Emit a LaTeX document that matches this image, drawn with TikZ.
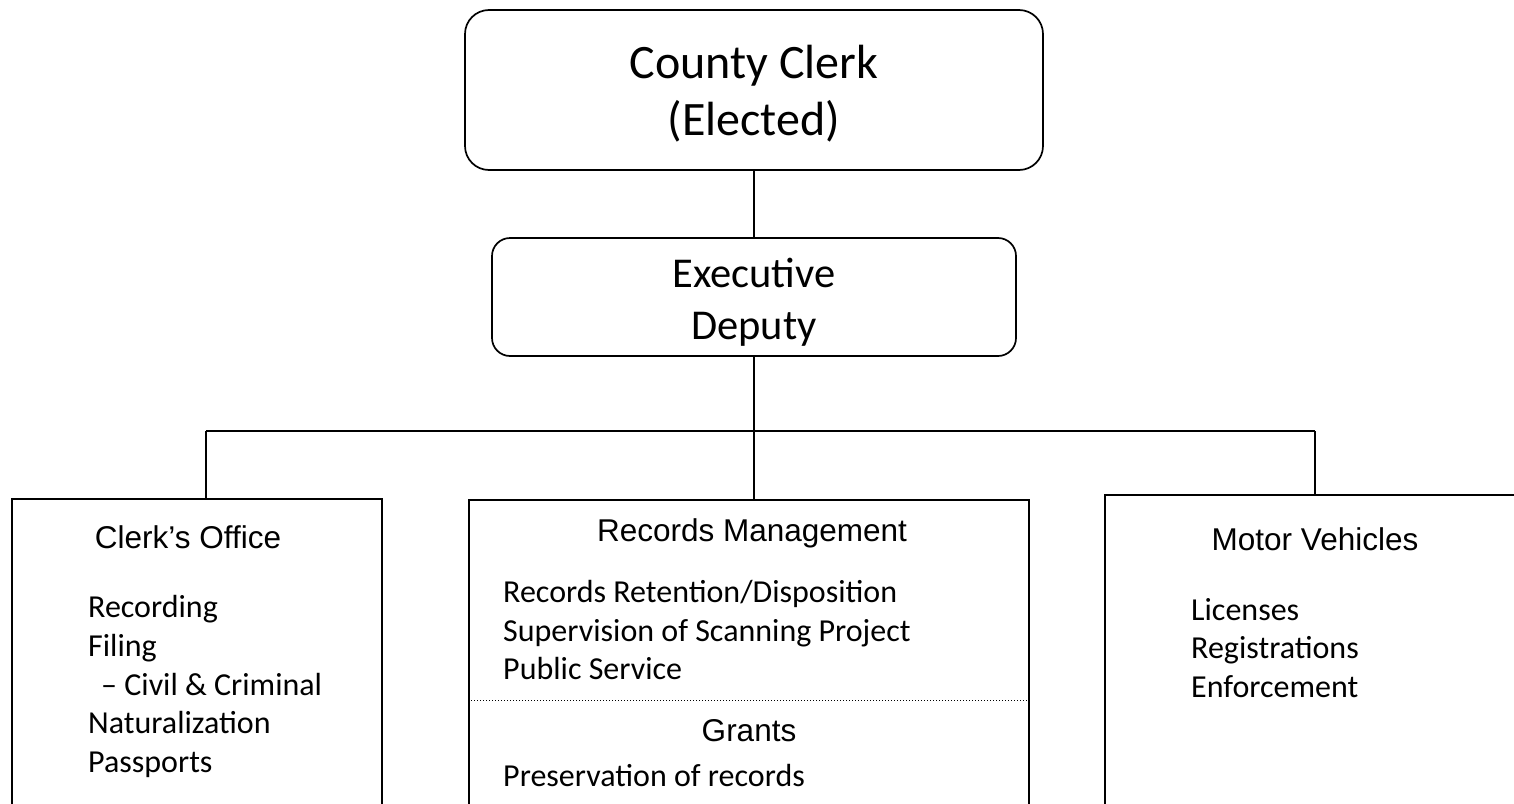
\documentclass[tikz,border=0pt]{standalone}
\usepackage{fontspec}
\setmainfont{Carlito}
\newfontfamily\arialf{Liberation Sans}
\begin{document}
\begin{tikzpicture}[x=1pt,y=-1pt,
  box/.style={draw,line width=1.7pt,inner sep=0pt},
  rbox/.style={box,rounded corners=24pt},
  conn/.style={line width=1.5pt},
  big/.style={align=center,inner sep=0pt},
  head/.style={font=\arialf\fontsize{31.5}{37}\selectfont,inner sep=0pt},
  item/.style={font=\fontsize{32}{38.8}\selectfont,inner sep=0pt,anchor=west,align=left},
]
\useasboundingbox (0,0) rectangle (1514,803);
\clip (0,0) rectangle (1514,803);
% top boxes
\node[rbox,minimum width=578pt,minimum height=160pt] (clerk) at (754,90) {};
\node[big,font=\fontsize{48}{57}\selectfont] (clerkt) at (754,94) {County Clerk\\(Elected)};
\node[rbox,rounded corners=18pt,minimum width=524pt,minimum height=118pt] (exec) at (754,297) {};
\node[big,font=\fontsize{42.5}{52}\selectfont] (exect) at (754,302) {Executive\\Deputy};
% department boxes (open at the bottom, cut by the page edge)
\node[box,minimum width=370pt,minimum height=351pt] (office) at (197,674.5) {};
\node[box,minimum width=560pt,minimum height=350pt] (rec) at (749,675) {};
\node[box,minimum width=455pt,minimum height=355pt] (mv) at (1332.5,672.5) {};
% connectors
\coordinate (busL) at (206,431);
\coordinate (busR) at (1315,431);
\draw[conn] (clerk.south) -- (exec.north);
\draw[conn] (exec.south) -- (exec.south |- rec.north);
\draw[conn] (busL) -- (busR);
\draw[conn] (busL) -- (busL |- office.north);
\draw[conn] (busR) -- (busR |- mv.north);
\draw[dotted,line width=1pt] (rec.west |- 0,700) coordinate (dl) -- (rec.east |- 0,700) coordinate (dr);
% texts
\node[head] (h1) at (188,537) {Clerk’s Office};
\node[item] (t1) at (88,686.5) {Recording\\Filing\\\hspace*{13pt}– Civil \& Criminal\\Naturalization\\Passports};
\node[head] (h2) at (752,533) {Records Management};
\node[item] (t2) at (503,630) {Records Retention/Disposition\\Supervision of Scanning Project\\Public Service};
\node[head] (h3) at (749,731) {Grants};
\node[item] (t3) at (503,775) {Preservation of records};
\node[head] (h4) at (1315,539) {Motor Vehicles};
\node[item] (t4) at (1191,648) {Licenses\\Registrations\\Enforcement};
\end{tikzpicture}
\end{document}
